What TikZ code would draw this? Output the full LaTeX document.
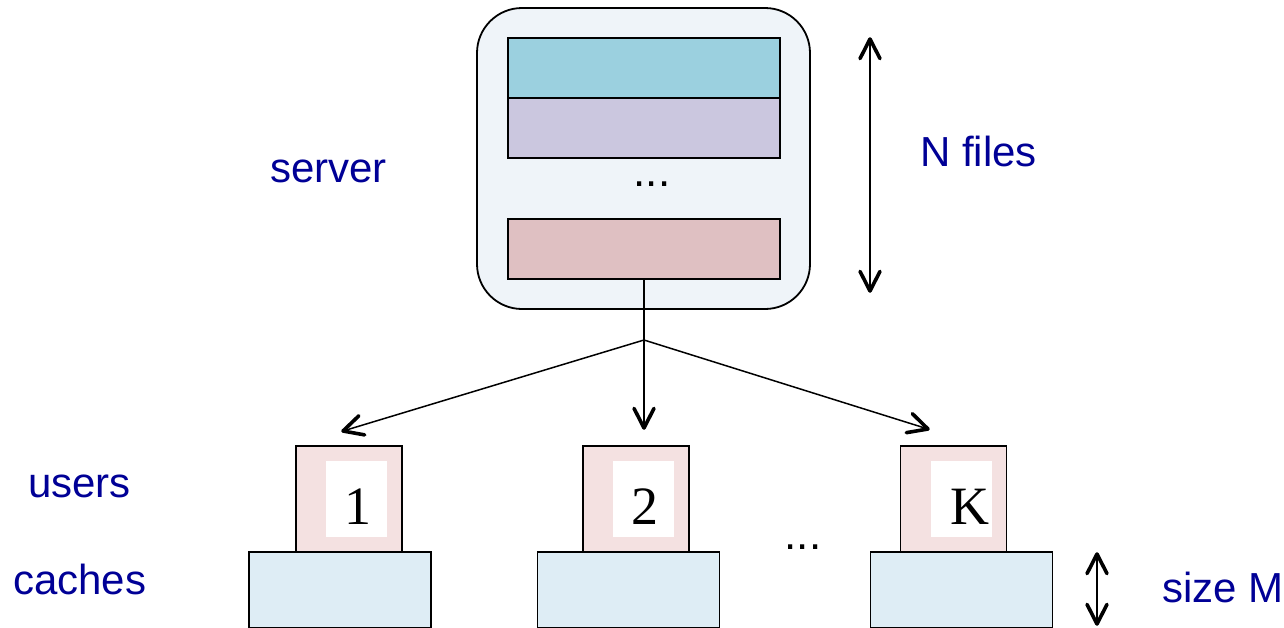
\documentclass[tikz,border=0pt]{standalone}
\usepackage{fontspec}
\setmainfont{Liberation Sans}
\newfontfamily\numfont{Liberation Serif}
\usetikzlibrary{calc}
\definecolor{labelblue}{RGB}{0,0,150}
\definecolor{serverbg}{RGB}{239,244,249}
\definecolor{fileA}{RGB}{155,208,223}
\definecolor{fileB}{RGB}{203,199,223}
\definecolor{fileN}{RGB}{223,192,194}
\definecolor{userbg}{RGB}{244,225,225}
\definecolor{cachebg}{RGB}{222,237,245}
\tikzset{
  box/.style={draw=black, line width=1.8pt, inner sep=0pt, outer sep=0pt},
  filebox/.style={box, minimum width=272pt, minimum height=60pt},
  userbox/.style={box, fill=userbg, minimum width=106pt, minimum height=106pt},
  cachebox/.style={box, fill=cachebg, minimum width=182pt, minimum height=76pt},
  idbox/.style={fill=white, inner sep=0pt, minimum width=61pt, minimum height=76pt},
  lbl/.style={text=labelblue, inner sep=0pt, anchor=base west, font=\fontsize{42}{50}\selectfont},
  num/.style={inner sep=0pt, font=\numfont\fontsize{54}{60}\selectfont},
  dots/.style={inner sep=0pt, anchor=base, font=\fontsize{44}{50}\selectfont},
  link/.style={line width=1.5pt},
  barbline/.style={line width=3.6pt, line cap=round, line join=round}
}
% open chevron head at #1, pointing away from #2
\newcommand\drawbarb[2]{\draw[barbline] ($(#1)!22pt!27:(#2)$) -- (#1) -- ($(#1)!22pt!-27:(#2)$);}
\begin{document}
\begin{tikzpicture}[x=1pt, y=-1pt]
\useasboundingbox (0,0) rectangle (1284,627);

% server holding the files
\node[box, fill=serverbg, rounded corners=45pt, minimum width=333pt, minimum height=301pt] (server) at (643.5,158.5) {};
\node[filebox, fill=fileA] (f1) at (644,68) {};
\node[filebox, fill=fileB] (f2) at (644,128) {};
\node[dots] (fdots) at (652,186) {...};
\node[filebox, fill=fileN] (fn) at (644,249) {};

% users with their caches
\node[cachebox] (c1) at (340,590) {};
\node[cachebox] (c2) at (628.5,590) {};
\node[cachebox] (cK) at (961.5,590) {};
\node[userbox] (u1) at (349,499) {};
\node[userbox] (u2) at (636,499) {};
\node[userbox] (uK) at (953.5,499) {};
\node[idbox] (i1) at (356.5,499) {};
\node[idbox] (i2) at (643.5,499) {};
\node[idbox] (iK) at (961.5,499) {};
\node[num] (n1) at (358,507) {1};
\node[num] (n2) at (645,507) {2};
\node[num] (nK) at (970,507) {K};
\node[dots] (udots) at (803,549) {...};

% broadcast link
\coordinate (hub) at (644,340);
\coordinate (t1) at (343,431);
\coordinate (t2) at (644,428);
\coordinate (tK) at (928,429);
\draw[link] (fn.south) -- (hub);
\draw[link] (hub) -- (t1);
\draw[link] (hub) -- (t2);
\draw[link] (hub) -- (tK);
\drawbarb{t1}{hub}
\drawbarb{t2}{hub}
\drawbarb{tK}{hub}

% dimension markers
\coordinate (nTop) at (870,39);
\coordinate (nBot) at (870,291);
\draw[link] (nTop) -- (nBot);
\drawbarb{nTop}{nBot}
\drawbarb{nBot}{nTop}
\coordinate (mTop) at (1097,554);
\coordinate (mBot) at (1097,624);
\draw[link] (mTop) -- (mBot);
\drawbarb{mTop}{mBot}
\drawbarb{mBot}{mTop}

% labels
\node[lbl] (lserver) at (270,182) {server};
\node[lbl] (lfiles) at (920,166) {N files};
\node[lbl] (lusers) at (28,497) {users};
\node[lbl] (lcaches) at (13,594) {caches};
\node[lbl] (lsize) at (1162,602) {size M};
\end{tikzpicture}
\end{document}
